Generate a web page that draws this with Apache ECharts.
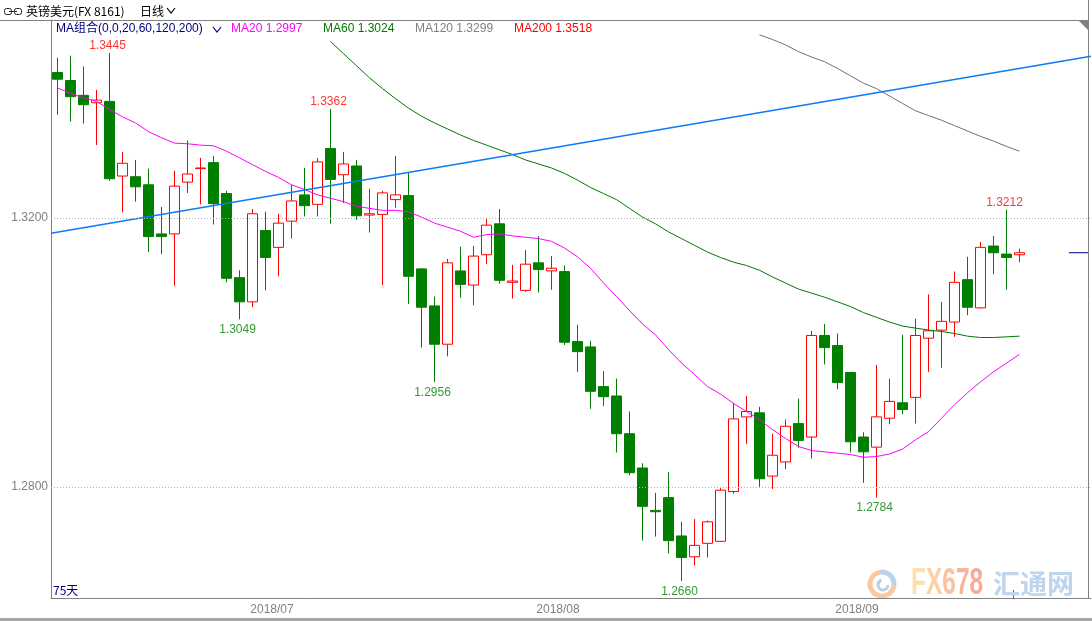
<!DOCTYPE html>
<html><head><meta charset="utf-8">
<script src="https://cdn.jsdelivr.net/npm/echarts@6/dist/echarts.min.js"></script>
<style>html,body{margin:0;padding:0;background:#fff}#c{width:1092px;height:621px}</style>
</head><body><div id="c"></div>
<script>
// ---- data ----
const dates = [
 '2018-06-07','2018-06-08','2018-06-11','2018-06-12','2018-06-13','2018-06-14','2018-06-15','2018-06-18','2018-06-19','2018-06-20',
 '2018-06-21','2018-06-22','2018-06-25','2018-06-26','2018-06-27','2018-06-28','2018-06-29','2018-07-02','2018-07-03','2018-07-04',
 '2018-07-05','2018-07-06','2018-07-09','2018-07-10','2018-07-11','2018-07-12','2018-07-13','2018-07-16','2018-07-17','2018-07-18',
 '2018-07-19','2018-07-20','2018-07-23','2018-07-24','2018-07-25','2018-07-26','2018-07-27','2018-07-30','2018-07-31','2018-08-01',
 '2018-08-02','2018-08-03','2018-08-06','2018-08-07','2018-08-08','2018-08-09','2018-08-10','2018-08-13','2018-08-14','2018-08-15',
 '2018-08-16','2018-08-17','2018-08-20','2018-08-21','2018-08-22','2018-08-23','2018-08-24','2018-08-27','2018-08-28','2018-08-29',
 '2018-08-30','2018-08-31','2018-09-03','2018-09-04','2018-09-05','2018-09-06','2018-09-07','2018-09-10','2018-09-11','2018-09-12',
 '2018-09-13','2018-09-14','2018-09-17','2018-09-18','2018-09-19'];
const openP = [
 1.3416,1.3404,1.3382,1.3371,1.3373,1.3262,1.3261,1.3249,1.3176,1.3176,
 1.3253,1.3273,1.3282,1.3236,1.3111,1.3075,1.3181,1.3156,1.3195,1.3234,
 1.3220,1.3303,1.3264,1.3277,1.3204,1.3205,1.3227,1.3233,1.3124,1.3069,
 1.3012,1.3121,1.3100,1.3145,1.3191,1.3104,1.3092,1.3133,1.3121,1.3120,
 1.3016,1.3008,1.2949,1.2935,1.2879,1.2828,1.2765,1.2784,1.2727,1.2696,
 1.2716,1.2719,1.2793,1.2904,1.2910,1.2816,1.2837,1.2894,1.2874,1.3025,
 1.3010,1.2970,1.2874,1.2859,1.2902,1.2925,1.2933,1.3021,1.3033,1.3045,
 1.3108,1.3066,1.3158,1.3146,1.3145];
const closeP = [
 1.3406,1.3380,1.3368,1.3375,1.3258,1.3281,1.3246,1.3172,1.3172,1.3247,
 1.3265,1.3274,1.3221,1.3110,1.3075,1.3206,1.3141,1.3192,1.3225,1.3218,
 1.3283,1.3257,1.3280,1.3203,1.3206,1.3237,1.3234,1.3113,1.3067,1.3012,
 1.3133,1.3101,1.3143,1.3189,1.3107,1.3106,1.3131,1.3123,1.3125,1.3015,
 1.3001,1.2942,1.2934,1.2879,1.2821,1.2771,1.2763,1.2720,1.2695,1.2713,
 1.2748,1.2795,1.2901,1.2912,1.2812,1.2847,1.2890,1.2869,1.3025,1.3007,
 1.2955,1.2867,1.2852,1.2904,1.2927,1.2915,1.3025,1.3032,1.3046,1.3104,
 1.3067,1.3156,1.3148,1.3141,1.3148];
const lowP = [
 1.3353,1.3343,1.3340,1.3308,1.3255,1.3208,1.3224,1.3149,1.3146,1.3099,
 1.3237,1.3220,1.3190,1.3104,1.3049,1.3067,1.3092,1.3113,1.3169,1.3202,
 1.3202,1.3191,1.3222,1.3197,1.3178,1.3100,1.3215,1.3072,1.3007,1.2956,
 1.2994,1.3081,1.3070,1.3131,1.3102,1.3080,1.3090,1.3089,1.3093,1.3011,
 1.2971,1.2916,1.2920,1.2851,1.2817,1.2720,1.2726,1.2701,1.2660,1.2683,
 1.2695,1.2718,1.2790,1.2864,1.2800,1.2797,1.2826,1.2858,1.2842,1.2982,
 1.2945,1.2851,1.2806,1.2784,1.2893,1.2908,1.2894,1.2971,1.2977,1.3023,
 1.3055,1.3065,1.3116,1.3093,1.3134];
const highP = [
 1.3438,1.3441,1.3425,1.3390,1.3445,1.3298,1.3286,1.3273,1.3216,1.3270,
 1.3315,1.3289,1.3292,1.3240,1.3122,1.3213,1.3209,1.3206,1.3249,1.3274,
 1.3289,1.3362,1.3298,1.3286,1.3243,1.3240,1.3292,1.3268,1.3125,1.3083,
 1.3139,1.3157,1.3158,1.3200,1.3213,1.3130,1.3152,1.3173,1.3143,1.3129,
 1.3041,1.3017,1.2972,1.2961,1.2912,1.2835,1.2791,1.2822,1.2748,1.2752,
 1.2750,1.2798,1.2925,1.2935,1.2919,1.2879,1.2900,1.2931,1.3032,1.3042,
 1.3028,1.2971,1.2881,1.2981,1.2961,1.3026,1.3050,1.3086,1.3075,1.3120,
 1.3142,1.3164,1.3173,1.3212,1.3154];
const ma20 = [
 1.3393,1.3385,1.3378,1.3373,1.3361,1.3350,1.3341,1.3328,1.3319,1.3311,
 1.3310,1.3308,1.3307,1.3299,1.3289,1.3279,1.3269,1.3260,1.3249,1.3242,
 1.3234,1.3229,1.3224,1.3217,1.3214,1.3211,1.3211,1.3209,1.3201,1.3192,
 1.3186,1.3180,1.3171,1.3175,1.3176,1.3173,1.3171,1.3169,1.3165,1.3155,
 1.3142,1.3125,1.3103,1.3083,1.3062,1.3042,1.3026,1.3004,1.2984,1.2967,
 1.2949,1.2938,1.2924,1.2912,1.2900,1.2885,1.2872,1.2860,1.2854,1.2852,
 1.2850,1.2848,1.2844,1.2845,1.2849,1.2856,1.2870,1.2882,1.2902,1.2922,
 1.2940,1.2956,1.2971,1.2984,1.2997];
const ma60Start = 21;
const ma60 = [
 1.3462,1.3444,1.3426,1.3408,1.3392,1.3377,1.3363,1.3351,1.3341,1.3332,
 1.3323,1.3315,1.3308,1.3301,1.3294,1.3286,1.3280,1.3274,1.3266,1.3256,
 1.3245,1.3236,1.3227,1.3214,1.3201,1.3191,1.3179,1.3169,1.3159,1.3149,
 1.3141,1.3134,1.3129,1.3122,1.3112,1.3103,1.3094,1.3088,1.3082,1.3075,
 1.3068,1.3059,1.3052,1.3045,1.3039,1.3036,1.3033,1.3031,1.3028,1.3024,
 1.3022,1.3022,1.3023,1.3024];
const ma120Start = 54;
const ma120 = [
 1.3472,1.3465,1.3457,1.3447,1.3439,1.3432,1.3422,1.3411,1.3400,1.3392,
 1.3381,1.3370,1.3359,1.3352,1.3345,1.3337,1.3329,1.3321,1.3314,1.3306,1.3299];
const ma200Last = 1.3518;
const trendEnds = [1.3177, 1.3440];
const yTickValues = [1.28, 1.32];
const monthLabels = ['2018/07', '2018/08', '2018/09'];
const monthStartIdx = [17, 39, 62];
const highMarks = [[4, 1.3445], [21, 1.3362], [73, 1.3212]];
const lowMarks = [[14, 1.3049], [29, 1.2956], [48, 1.2660], [63, 1.2784]];
const padSlots = 5;

// ---- build ----
const N = dates.length;
const slots = N + padSlots;
const cats = dates.concat(Array.from({length: padSlots}, (_, i) => 'pad' + i));
const kData = dates.map((d, i) => [openP[i], closeP[i], lowP[i], highP[i]]);
const pad = (arr, start) => Array(start).fill(null).concat(arr);
const lastClose = closeP[N - 1];
const FONT = '"Liberation Sans","Noto Sans CJK SC",Arial,sans-serif';
const CJK = '"Noto Sans CJK SC","Liberation Sans",sans-serif';
const GREEN = '#007f00';
const RED = '#ff0000';

const chart = echarts.init(document.getElementById('c'), null, {renderer: 'canvas'});
const lineBase = {type: 'line', symbol: 'none', smooth: false, silent: true, xAxisIndex: 0, yAxisIndex: 0};

chart.setOption({
  animation: false,
  backgroundColor: '#ffffff',
  textStyle: {fontFamily: FONT},
  grid: {left: 51, top: 20, width: slots * 13, height: 578.5, outerBoundsMode: 'none', containLabel: false},
  xAxis: [
    {type: 'category', data: cats, show: false, boundaryGap: true},
    {type: 'value', min: -0.5, max: slots - 0.5, position: 'bottom',
     axisLine: {show: true, onZero: false, lineStyle: {color: '#808080', width: 1}},
     axisTick: {show: false}, splitLine: {show: false},
     axisLabel: {customValues: monthStartIdx.map(i => i - 0.5), margin: 5, color: '#808080', fontSize: 12, fontFamily: FONT,
       formatter: v => monthLabels[monthStartIdx.indexOf(Math.round(v + 0.5))] || ''}}
  ],
  yAxis: [{
    type: 'value', min: 1.2634, max: 1.3494, position: 'left',
    axisLine: {show: true, onZero: false, lineStyle: {color: '#808080', width: 1}},
    axisTick: {show: false}, splitLine: {show: false},
    axisLabel: {customValues: yTickValues, formatter: v => v.toFixed(4), color: '#808080', fontSize: 12, margin: 3,
      padding: [3, 0, 0, 0], fontFamily: FONT}
  }],
  series: [
    {type: 'candlestick', name: 'K', data: kData, xAxisIndex: 0, yAxisIndex: 0, barWidth: 10,
     itemStyle: {color: '#ffffff', color0: GREEN, borderColor: RED, borderColor0: GREEN, borderWidth: 1},
     markLine: {silent: true, symbol: 'none', label: {show: false},
       lineStyle: {type: [1, 2], color: '#b0b0b0', width: 1},
       data: yTickValues.map(v => ({yAxis: v}))}},
    Object.assign({}, lineBase, {name: 'MA20', data: ma20, lineStyle: {color: '#ff00ff', width: 1}}),
    Object.assign({}, lineBase, {name: 'MA60', data: pad(ma60, ma60Start), lineStyle: {color: '#007800', width: 1}}),
    Object.assign({}, lineBase, {name: 'MA120', data: pad(ma120, ma120Start), lineStyle: {color: '#707070', width: 1}}),
    {type: 'line', name: 'trend', xAxisIndex: 1, yAxisIndex: 0, symbol: 'none', silent: true,
     data: [[-0.5, trendEnds[0]], [slots - 0.5, trendEnds[1]]], lineStyle: {color: '#0a7cf5', width: 1.6}},
    {type: 'line', name: 'last', xAxisIndex: 1, yAxisIndex: 0, symbol: 'none', silent: true,
     data: [[77.8, lastClose], [79.27, lastClose]], lineStyle: {color: '#000080', width: 1}},
    {type: 'scatter', name: 'hi', xAxisIndex: 0, yAxisIndex: 0, symbolSize: 0, silent: true, data: highMarks,
     label: {show: true, position: 'top', distance: 1, offset: [-2, 0], color: RED, fontSize: 12, fontFamily: FONT,
       formatter: p => p.value[1].toFixed(4)}},
    {type: 'scatter', name: 'lo', xAxisIndex: 0, yAxisIndex: 0, symbolSize: 0, silent: true, data: lowMarks,
     label: {show: true, position: 'bottom', distance: 4.5, offset: [-2, 0], color: '#008000', fontSize: 12, fontFamily: FONT,
       formatter: p => p.value[1].toFixed(4)}}
  ],
  graphic: [
    // frame / header
    {type: 'line', silent: true, shape: {x1: 0, y1: 20.5, x2: 1088, y2: 20.5}, style: {stroke: '#808080', lineWidth: 1}},
    {type: 'line', silent: true, shape: {x1: 1088.5, y1: 0, x2: 1088.5, y2: 599}, style: {stroke: '#808080', lineWidth: 1}},
    {type: 'polygon', silent: true, shape: {points: [[1079, 21], [1088, 21], [1088, 30]]}, style: {fill: '#808080'}},
    {type: 'rect', silent: true, shape: {x: 0, y: 618, width: 1092, height: 3}, style: {fill: '#a6a6a6'}},
    {type: 'line', silent: true, shape: {x1: 1013.5, y1: 590, x2: 1013.5, y2: 598}, style: {stroke: '#606060', lineWidth: 1}},
    {type: 'rect', silent: true, shape: {x: 4.5, y: 8.5, width: 7, height: 6, r: 2}, style: {fill: 'none', stroke: '#222', lineWidth: 1}},
    {type: 'rect', silent: true, shape: {x: 14.5, y: 8.5, width: 7, height: 6, r: 2}, style: {fill: 'none', stroke: '#222', lineWidth: 1}},
    {type: 'line', silent: true, shape: {x1: 9, y1: 11.5, x2: 17, y2: 11.5}, style: {stroke: '#222', lineWidth: 1}},
    {type: 'text', silent: true, x: 26, y: 11, style: {text: '英镑美元(FX 8161)', font: '12px ' + CJK, fill: '#000', align: 'left', verticalAlign: 'middle'}},
    {type: 'text', silent: true, x: 140, y: 11, style: {text: '日线', font: '12px ' + CJK, fill: '#000', align: 'left', verticalAlign: 'middle'}},
    {type: 'polyline', silent: true, shape: {points: [[167, 8], [171, 13], [175, 8]]}, style: {stroke: '#000', lineWidth: 1.2, fill: 'none'}},
    // indicator legend row
    {type: 'text', silent: true, x: 56, y: 28.5, style: {text: 'MA组合(0,0,20,60,120,200)', font: '12px ' + FONT, fill: '#000080', align: 'left', verticalAlign: 'middle'}},
    {type: 'polyline', silent: true, shape: {points: [[213, 27], [217, 32], [221, 27]]}, style: {stroke: '#000080', lineWidth: 1.2, fill: 'none'}},
    {type: 'text', silent: true, x: 231, y: 28.5, style: {text: 'MA20 ' + ma20[ma20.length - 1].toFixed(4), font: '12px ' + FONT, fill: '#ff00ff', align: 'left', verticalAlign: 'middle'}},
    {type: 'text', silent: true, x: 323, y: 28.5, style: {text: 'MA60 ' + ma60[ma60.length - 1].toFixed(4), font: '12px ' + FONT, fill: '#007800', align: 'left', verticalAlign: 'middle'}},
    {type: 'text', silent: true, x: 415, y: 28.5, style: {text: 'MA120 ' + ma120[ma120.length - 1].toFixed(4), font: '12px ' + FONT, fill: '#808080', align: 'left', verticalAlign: 'middle'}},
    {type: 'text', silent: true, x: 514, y: 28.5, style: {text: 'MA200 ' + ma200Last.toFixed(4), font: '12px ' + FONT, fill: '#ff0000', align: 'left', verticalAlign: 'middle'}},
    {type: 'text', silent: true, x: 53, y: 590.5, style: {text: N + '天', font: '12px ' + CJK, fill: '#000080', align: 'left', verticalAlign: 'middle'}},
    // watermark
    {type: 'arc', silent: true, shape: {cx: 882, cy: 584, r: 12, startAngle: Math.PI * 0.05, endAngle: Math.PI * 1.45}, style: {fill: 'none', stroke: '#f9c9a3', lineWidth: 5}},
    {type: 'arc', silent: true, shape: {cx: 882, cy: 584, r: 12, startAngle: Math.PI * 1.45, endAngle: Math.PI * 2.05}, style: {fill: 'none', stroke: '#bcd2ea', lineWidth: 5}},
    {type: 'arc', silent: true, shape: {cx: 883, cy: 585, r: 5, startAngle: 0, endAngle: Math.PI * 1.4}, style: {fill: 'none', stroke: '#b8cfe8', lineWidth: 3}},
    {type: 'text', silent: true, x: 911, y: 584, scaleX: 0.68, style: {x: 0, y: 0, text: '{a|F}{b|X}{c|6}{d|7}{e|8}',
      font: 'bold 36px "Liberation Sans",Arial,sans-serif', align: 'left', verticalAlign: 'middle',
      rich: {a: {fill: '#fde0ad', font: 'bold 36px "Liberation Sans",Arial,sans-serif'},
             b: {fill: '#fccfa5', font: 'bold 36px "Liberation Sans",Arial,sans-serif'},
             c: {fill: '#fbc0a0', font: 'bold 36px "Liberation Sans",Arial,sans-serif'},
             d: {fill: '#fab39c', font: 'bold 36px "Liberation Sans",Arial,sans-serif'},
             e: {fill: '#f9aa97', font: 'bold 36px "Liberation Sans",Arial,sans-serif'}}}},
    {type: 'text', silent: true, x: 993, y: 584, style: {text: '汇通网', font: 'bold 27px ' + CJK, fill: '#bfd5ee', align: 'left', verticalAlign: 'middle'}}
  ]
});
</script>
</body></html>
